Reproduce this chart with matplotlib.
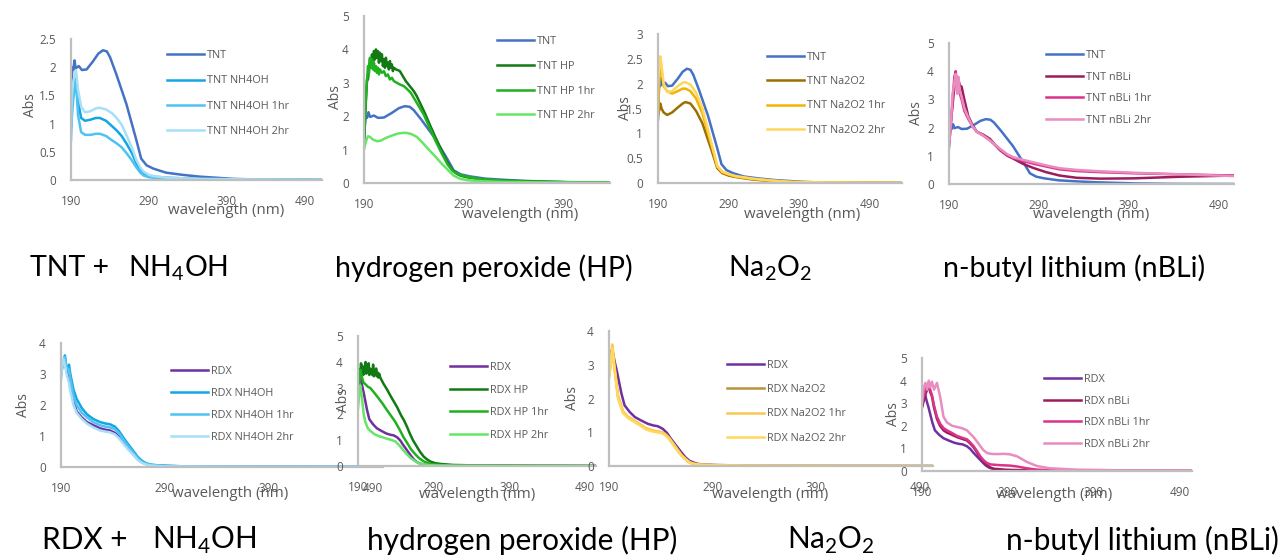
import matplotlib
matplotlib.use("Agg")
import matplotlib.pyplot as plt
from matplotlib.ticker import FuncFormatter

plt.rcParams['font.family'] = ['Open Sans', 'DejaVu Sans']

# ---------------- data (wavelength nm, absorbance) ----------------
tnt_wl = [190, 191.5, 193, 194.5, 196, 200, 204, 210, 218, 225, 231, 236, 240, 248, 261,
          274, 280, 287, 296, 312, 334, 355, 398, 441, 540]
tnt_abs = [1.28, 2.0, 1.95, 2.12, 1.98, 2.02, 1.95, 1.96, 2.1, 2.24, 2.3, 2.28, 2.18, 1.88, 1.35,
           0.7, 0.38, 0.26, 0.2, 0.13, 0.09, 0.06, 0.02, 0.005, 0.0]

nh_wl = [190, 191, 193, 196.4, 199, 203, 208, 215, 222, 227, 235, 243, 248.5, 255, 261,
         268, 274, 279, 283, 290, 296, 313, 355, 420, 520]
tnt_nh = [0.94, 1.4, 1.6, 1.85, 1.4, 1.1, 1.05, 1.07, 1.1, 1.1, 1.05, 0.95, 0.88, 0.78, 0.65,
          0.48, 0.29, 0.18, 0.12, 0.08, 0.06, 0.04, 0.02, 0.01, 0.0]
tnt_nh_1 = [0.7, 1.1, 1.45, 1.75, 1.15, 0.85, 0.8, 0.8, 0.82, 0.82, 0.78, 0.7, 0.65, 0.58, 0.48,
            0.35, 0.22, 0.13, 0.08, 0.05, 0.04, 0.03, 0.01, 0.005, 0.0]
tnt_nh_2 = [1.0, 1.5, 1.75, 1.95, 1.6, 1.3, 1.2, 1.22, 1.27, 1.28, 1.25, 1.18, 1.1, 0.98, 0.8,
            0.58, 0.35, 0.22, 0.15, 0.09, 0.07, 0.04, 0.02, 0.01, 0.0]

hp_wl = [190, 191.5, 193, 194, 195, 196, 197, 198, 199, 200, 201, 202, 203, 204, 205, 206, 207,
         208, 209, 210, 211, 212, 213, 214, 215, 216, 217, 218, 219, 220, 222, 224, 226, 229,
         232, 236, 240, 243, 247, 251, 256, 262, 269, 274, 279, 283, 287, 292, 298, 305, 315,
         330, 350, 380, 410, 437]
tnt_hp = [1.2, 2.2, 3.1, 3.1, 3.4, 3.7, 3.5, 3.85, 3.6, 3.95, 3.7, 4.0, 3.75, 3.95, 3.6, 3.9,
          3.65, 3.85, 3.5, 3.7, 3.45, 3.75, 3.5, 3.6, 3.4, 3.65, 3.45, 3.55, 3.35, 3.45, 3.4,
          3.38, 3.35, 3.2, 3.05, 2.9, 2.75, 2.6, 2.35, 2.1, 1.75, 1.35, 0.9, 0.6, 0.38, 0.28,
          0.22, 0.18, 0.15, 0.12, 0.09, 0.07, 0.05, 0.03, 0.02, 0.01]
hp1_wl = [190, 192, 194, 195, 196, 197, 198, 199, 200, 201, 202, 203, 204, 205, 206, 208, 210,
          212, 214, 216, 218, 220, 223, 226, 230, 233, 237, 241, 245, 250, 256, 262, 269, 274,
          279, 284, 290, 298, 310, 330, 360, 400, 437]
tnt_hp_1 = [1.3, 2.6, 3.5, 3.3, 3.75, 3.45, 3.7, 3.4, 3.6, 3.35, 3.5, 3.3, 3.45, 3.25, 3.4, 3.3,
            3.35, 3.2, 3.25, 3.1, 3.15, 3.05, 3.0, 2.95, 2.9, 2.82, 2.7, 2.5, 2.3, 2.05, 1.65,
            1.25, 0.83, 0.55, 0.36, 0.27, 0.21, 0.16, 0.11, 0.07, 0.04, 0.02, 0.01]
hp2_wl = [190, 192, 194, 196, 199, 203, 207, 212, 218, 224, 229, 233, 238, 243, 249, 255, 262,
          268, 274, 280, 287, 295, 310, 330, 360, 400, 437]
tnt_hp_2 = [1.0, 1.25, 1.4, 1.38, 1.3, 1.25, 1.27, 1.35, 1.42, 1.48, 1.5, 1.5, 1.46, 1.38, 1.2,
            1.0, 0.78, 0.58, 0.4, 0.22, 0.12, 0.08, 0.05, 0.03, 0.02, 0.01, 0.01]

na_wl = [190, 191.5, 193.3, 195, 198, 203, 210, 218, 225, 229, 236, 244, 253, 259, 265, 270,
         274, 281, 290, 300, 324, 350, 381, 440, 536]
tnt_na = [1.37, 1.45, 1.6, 1.5, 1.42, 1.37, 1.42, 1.52, 1.6, 1.63, 1.6, 1.45, 1.2, 0.95, 0.7,
          0.48, 0.3, 0.2, 0.15, 0.12, 0.07, 0.04, 0.02, 0.01, 0.0]
tnt_na_1 = [1.3, 1.9, 2.5, 2.3, 1.95, 1.85, 1.8, 1.85, 1.9, 1.9, 1.85, 1.7, 1.4, 1.1, 0.8,
            0.55, 0.33, 0.22, 0.17, 0.13, 0.08, 0.05, 0.02, 0.01, 0.0]
tnt_na_2 = [2.0, 2.3, 2.55, 2.35, 2.0, 1.83, 1.85, 1.95, 2.02, 2.03, 1.98, 1.82, 1.5, 1.18, 0.85,
            0.58, 0.35, 0.23, 0.18, 0.14, 0.09, 0.05, 0.02, 0.01, 0.0]

nb_wl = [190, 192, 194, 196, 197.5, 199, 200.5, 202, 204, 207, 211.5, 216, 221, 228, 235.5,
         246.7, 255, 261.5, 272, 283.7, 298, 313, 332, 358, 395, 450, 507]
tnt_nb = [1.6, 2.2, 2.8, 3.5, 3.9, 3.6, 3.7, 3.5, 3.45, 3.0, 2.4, 2.1, 1.85, 1.75, 1.6,
          1.2, 1.0, 0.9, 0.72, 0.57, 0.42, 0.3, 0.22, 0.19, 0.2, 0.26, 0.3]
tnt_nb_1 = [1.4, 2.0, 3.0, 3.8, 4.0, 3.3, 3.6, 3.2, 3.0, 2.6, 2.3, 2.05, 1.85, 1.72, 1.55,
            1.22, 1.02, 0.92, 0.82, 0.72, 0.62, 0.52, 0.46, 0.42, 0.38, 0.34, 0.3]
tnt_nb_2 = [1.4, 2.1, 3.2, 3.6, 3.9, 3.2, 3.8, 3.3, 3.1, 2.7, 2.35, 2.05, 1.85, 1.72, 1.55,
            1.25, 1.05, 0.95, 0.86, 0.77, 0.66, 0.56, 0.5, 0.45, 0.4, 0.34, 0.28]

rdx_wl = [190, 192, 193.8, 195.4, 197.7, 199, 202, 205, 210, 215, 221, 227.5, 233, 237, 242,
          246, 250, 255, 260, 264, 268, 272, 276, 284, 292, 310, 340, 400, 505]
rdx_abs = [3.0, 3.4, 3.35, 3.1, 2.8, 2.6, 2.15, 1.8, 1.6, 1.45, 1.35, 1.25, 1.2, 1.18, 1.1,
           0.98, 0.8, 0.6, 0.4, 0.25, 0.15, 0.1, 0.06, 0.04, 0.03, 0.02, 0.01, 0.005, 0.0]
rdx_nh = [3.0, 3.4, 3.6, 3.1, 3.3, 3.0, 2.5, 2.2, 1.9, 1.7, 1.55, 1.45, 1.4, 1.38, 1.3,
          1.15, 0.95, 0.72, 0.5, 0.32, 0.2, 0.12, 0.08, 0.05, 0.04, 0.02, 0.01, 0.005, 0.0]
rdx_nh_1 = [2.9, 3.45, 3.55, 3.2, 3.15, 2.85, 2.3, 2.0, 1.75, 1.6, 1.45, 1.35, 1.3, 1.28, 1.22,
            1.08, 0.88, 0.66, 0.45, 0.28, 0.17, 0.11, 0.07, 0.05, 0.03, 0.02, 0.01, 0.005, 0.0]
rdx_nh_2 = [2.8, 3.5, 3.3, 3.0, 2.7, 2.45, 2.0, 1.75, 1.55, 1.4, 1.28, 1.18, 1.14, 1.12, 1.05,
            0.92, 0.75, 0.55, 0.38, 0.22, 0.13, 0.08, 0.05, 0.03, 0.02, 0.015, 0.01, 0.005, 0.0]

rhp_wl = [190, 191, 192, 193, 194, 195, 196, 197, 198, 199, 200, 201, 202, 203, 204, 205, 206,
          207, 208, 209, 210, 211, 212, 213, 214, 215, 216, 217, 218, 219.5, 224, 228.3, 233,
          237, 242, 247, 251, 255, 259, 263, 268, 272, 277, 282, 286, 292, 299, 316, 350, 420, 505]
rdx_hp = [3.3, 3.5, 3.7, 3.55, 3.95, 3.6, 3.85, 3.5, 3.75, 3.6, 4.0, 3.55, 3.8, 3.6, 3.95, 3.5,
          3.75, 3.55, 3.7, 3.5, 3.9, 3.45, 3.65, 3.5, 3.75, 3.45, 3.6, 3.4, 3.55, 3.4, 3.15,
          2.95, 2.7, 2.5, 2.25, 1.95, 1.75, 1.5, 1.22, 0.98, 0.74, 0.55, 0.36, 0.24, 0.17, 0.11,
          0.08, 0.04, 0.02, 0.01, 0.0]
rhp2_wl = [190, 192.2, 193, 195.3, 197.5, 199.7, 203, 206.3, 212, 217.3, 223, 228.3, 234, 239.3,
           246, 250, 254.8, 260, 265.8, 271, 276.8, 285.6, 299, 320, 380, 505]
rdx_hp_1 = [2.5, 3.3, 3.7, 3.4, 3.2, 3.15, 3.05, 3.0, 2.8, 2.6, 2.38, 2.15, 1.92, 1.7, 1.35,
            1.12, 0.9, 0.65, 0.45, 0.3, 0.18, 0.08, 0.04, 0.02, 0.01, 0.0]
rdx_hp_2 = [2.2, 3.0, 3.1, 2.6, 2.0, 1.7, 1.45, 1.35, 1.22, 1.15, 1.1, 1.05, 1.0, 0.95, 0.75,
            0.6, 0.45, 0.3, 0.18, 0.1, 0.06, 0.03, 0.02, 0.01, 0.005, 0.0]

rna_wl = [190, 191.5, 193.2, 195, 198.7, 203.5, 208, 213.2, 220, 226, 231, 235.8, 240, 243.9,
          248, 252, 256, 260, 264, 268, 272, 277.7, 285, 295, 320, 380, 505]
rdx_na = [2.65, 3.0, 3.55, 3.0, 2.05, 1.6, 1.45, 1.35, 1.22, 1.1, 1.05, 1.02, 1.0, 0.95, 0.82,
          0.65, 0.48, 0.32, 0.2, 0.1, 0.06, 0.04, 0.03, 0.02, 0.01, 0.005, 0.0]
rdx_na_1 = [2.7, 3.05, 3.6, 3.05, 2.1, 1.62, 1.47, 1.37, 1.24, 1.12, 1.07, 1.03, 1.01, 0.96,
            0.84, 0.67, 0.5, 0.33, 0.21, 0.11, 0.07, 0.04, 0.03, 0.02, 0.01, 0.005, 0.0]
rdx_na_2 = [2.6, 2.95, 3.5, 2.95, 2.0, 1.57, 1.43, 1.33, 1.2, 1.08, 1.03, 1.0, 0.98, 0.93,
            0.8, 0.63, 0.46, 0.3, 0.19, 0.1, 0.06, 0.04, 0.03, 0.02, 0.01, 0.005, 0.0]

rnb_wl = [190, 192, 194, 196, 197.8, 199.5, 201.6, 204, 207.4, 211, 215, 219, 225, 230.7, 236,
          242.3, 246, 250, 254, 257.8, 261.5, 265.6, 270, 273.3, 280, 285, 292, 300.5, 312,
          323.7, 339, 370, 420, 504]
rdx_nb = [2.8, 3.1, 3.4, 3.6, 3.8, 3.5, 3.3, 2.8, 2.3, 2.0, 1.8, 1.7, 1.6, 1.5, 1.43, 1.35,
          1.22, 1.05, 0.82, 0.6, 0.42, 0.25, 0.15, 0.1, 0.08, 0.06, 0.05, 0.04, 0.03, 0.02,
          0.015, 0.01, 0.005, 0.0]
rdx_nb_1 = [3.0, 3.3, 3.6, 3.8, 3.9, 3.6, 3.35, 2.9, 2.4, 2.1, 1.9, 1.8, 1.68, 1.55, 1.48, 1.4,
            1.27, 1.1, 0.88, 0.65, 0.48, 0.35, 0.29, 0.28, 0.26, 0.25, 0.24, 0.2, 0.12, 0.06,
            0.04, 0.02, 0.01, 0.0]
rdx_nb_2 = [3.0, 3.7, 3.9, 3.6, 4.0, 3.7, 3.95, 3.6, 3.9, 3.3, 2.4, 2.15, 2.0, 1.95, 1.9, 1.8,
            1.65, 1.5, 1.3, 1.1, 0.92, 0.8, 0.76, 0.75, 0.75, 0.76, 0.74, 0.65, 0.4, 0.22, 0.12,
            0.06, 0.03, 0.02]

captions = ["hydrogen peroxide (HP)", "Na$_\\mathregular{2}$O$_\\mathregular{2}$",
            "n-butyl lithium (nBLi)"]

# colours
c_tnt, c_rdx = "#4472C4", "#7030A0"
c_nh = ["#12A6E4", "#4EC2F2", "#A7DFF8"]
c_hp = ["#127A12", "#20B020", "#66E666"]
c_na = ["#9C7000", "#F2B400", "#FFD760"]
c_rna = ["#B8943A", "#F8C850", "#FFD85C"]
c_nb = ["#9C1C5C", "#D9338A", "#E98CC0"]

W, H = 1286, 557
fig = plt.figure(figsize=(W / 100, H / 100), dpi=100)
gray = "#595959"


def make_ax(l, r, b, t, xmax, ymax, ystep, xlab, ylab, leg_xy, lsp):
    ax = fig.add_axes([l / W, 1 - b / H, (r - l) / W, (b - t) / H])
    ax.patch.set_alpha(0)
    ax.set_xlim(190, xmax)
    ax.set_ylim(0, ymax)
    ax.set_xticks([x for x in (190, 290, 390, 490) if x <= xmax])
    n = int(round(ymax / ystep))
    ax.set_yticks([i * ystep for i in range(n + 1)])
    ax.yaxis.set_major_formatter(FuncFormatter(lambda v, p: f"{v:g}"))
    for s in ("top", "right"):
        ax.spines[s].set_visible(False)
    for s in ("left", "bottom"):
        ax.spines[s].set_color("#BFBFBF")
        ax.spines[s].set_linewidth(1.6)
    ax.tick_params(length=0, labelcolor=gray, labelsize=8.5)
    ax.tick_params(axis="x", pad=11)
    ax.tick_params(axis="y", pad=11)
    ax.set_xlabel("wavelength (nm)", color=gray, fontsize=10.8)
    ax.set_ylabel("Abs", color=gray, fontsize=10)
    ax.xaxis.set_label_coords(*xlab)
    ax.yaxis.set_label_coords(*ylab)
    ax._leg = (leg_xy, lsp)
    return ax


def add_legend(ax):
    (lx, ly), lsp = ax._leg
    ax.legend(loc="upper left", bbox_to_anchor=(lx / W, 1 - ly / H),
              bbox_transform=fig.transFigure, frameon=False, fontsize=7.8,
              labelcolor=gray, handlelength=3.4, handletextpad=0.25,
              labelspacing=lsp, borderpad=0, borderaxespad=0)


lw = 1.8

# --- top row: TNT ---
ax = make_ax(71, 322, 180, 39, 512, 2.5, 0.5, (0.62, -0.163), (-0.131, 0.53), (167, 50), 1.33)
ax.plot(tnt_wl, tnt_abs, color=c_tnt, lw=lw, label="TNT")
ax.plot(nh_wl, tnt_nh, color=c_nh[0], lw=lw, label="TNT NH4OH")
ax.plot(nh_wl, tnt_nh_1, color=c_nh[1], lw=lw, label="TNT NH4OH 1hr")
ax.plot(nh_wl, tnt_nh_2, color=c_nh[2], lw=lw, label="TNT NH4OH 2hr")
add_legend(ax)

ax = make_ax(364, 610, 183, 16, 437, 5, 1, (0.634, -0.144), (-0.085, 0.515), (497, 36), 1.27)
ax.plot(tnt_wl, tnt_abs, color=c_tnt, lw=lw, label="TNT")
ax.plot(hp_wl, tnt_hp, color=c_hp[0], lw=lw, label="TNT HP")
ax.plot(hp1_wl, tnt_hp_1, color=c_hp[1], lw=lw, label="TNT HP 1hr")
ax.plot(hp2_wl, tnt_hp_2, color=c_hp[2], lw=lw, label="TNT HP 2hr")
add_legend(ax)

ax = make_ax(658, 902, 183, 34, 536, 3, 0.5, (0.59, -0.161), (-0.102, 0.5), (767, 52), 1.22)
ax.plot(tnt_wl, tnt_abs, color=c_tnt, lw=lw, label="TNT")
ax.plot(na_wl, tnt_na, color=c_na[0], lw=lw, label="TNT Na2O2")
ax.plot(na_wl, tnt_na_1, color=c_na[1], lw=lw, label="TNT Na2O2 1hr")
ax.plot(na_wl, tnt_na_2, color=c_na[2], lw=lw, label="TNT Na2O2 2hr")
add_legend(ax)

ax = make_ax(949, 1234, 184, 43, 507, 5, 1, (0.5, -0.163), (-0.088, 0.5), (1046, 50), 0.98)
ax.plot(tnt_wl, tnt_abs, color=c_tnt, lw=lw, label="TNT")
ax.plot(nb_wl, tnt_nb, color=c_nb[0], lw=lw, label="TNT nBLi")
ax.plot(nb_wl, tnt_nb_1, color=c_nb[1], lw=lw, label="TNT nBLi 1hr")
ax.plot(nb_wl, tnt_nb_2, color=c_nb[2], lw=lw, label="TNT nBLi 2hr")
add_legend(ax)

# --- bottom row: RDX ---
ax = make_ax(61, 383, 467, 343, 500, 4, 1, (0.525, -0.153), (-0.093, 0.5), (171, 366), 1.02)
ax.plot(rdx_wl, rdx_abs, color=c_rdx, lw=lw, label="RDX")
ax.plot(rdx_wl, rdx_nh, color=c_nh[0], lw=lw, label="RDX NH4OH")
ax.plot(rdx_wl, rdx_nh_1, color=c_nh[1], lw=lw, label="RDX NH4OH 1hr")
ax.plot(rdx_wl, rdx_nh_2, color=c_nh[2], lw=lw, label="RDX NH4OH 2hr")
add_legend(ax)

ax = make_ax(358, 596, 466, 336, 505, 5, 1, (0.5, -0.162), (-0.029, 0.51), (450, 362), 1.07)
ax.plot(rdx_wl, rdx_abs, color=c_rdx, lw=lw, label="RDX")
ax.plot(rhp_wl, rdx_hp, color=c_hp[0], lw=lw, label="RDX HP")
ax.plot(rhp2_wl, rdx_hp_1, color=c_hp[1], lw=lw, label="RDX HP 1hr")
ax.plot(rhp2_wl, rdx_hp_2, color=c_hp[2], lw=lw, label="RDX HP 2hr")
add_legend(ax)

ax = make_ax(609, 933, 466, 331, 503, 4, 1, (0.497, -0.156), (-0.09, 0.5), (727, 360), 1.22)
ax.plot(rdx_wl, rdx_abs, color=c_rdx, lw=lw, label="RDX")
ax.plot(rna_wl, rdx_na, color=c_rna[0], lw=lw, label="RDX Na2O2")
ax.plot(rna_wl, rdx_na_1, color=c_rna[1], lw=lw, label="RDX Na2O2 1hr")
ax.plot(rna_wl, rdx_na_2, color=c_rna[2], lw=lw, label="RDX Na2O2 2hr")
add_legend(ax)

ax = make_ax(922, 1192, 471, 358, 504, 5, 1, (0.49, -0.142), (-0.078, 0.5), (1044, 374), 0.98)
ax.plot(rdx_wl, rdx_abs, color=c_rdx, lw=lw, label="RDX")
ax.plot(rnb_wl, rdx_nb, color=c_nb[0], lw=lw, label="RDX nBLi")
ax.plot(rnb_wl, rdx_nb_1, color=c_nb[1], lw=lw, label="RDX nBLi 1hr")
ax.plot(rnb_wl, rdx_nb_2, color=c_nb[2], lw=lw, label="RDX nBLi 2hr")
add_legend(ax)

# --- captions ---
cap_font = ['Lato', 'DejaVu Sans']
nh4oh = "NH$_\\mathregular{4}$OH"
top = [(30, "TNT +"), (128, nh4oh), (335, captions[0]), (728, captions[1]), (943, captions[2])]
bot = [(42, "RDX +"), (152, nh4oh), (367, captions[0]), (787, captions[1]), (1006, captions[2])]
for x, s in top:
    fig.text(x / W, 1 - 268 / H, s, fontsize=20.5, va="center", family=cap_font)
for x, s in bot:
    fig.text(x / W, 1 - 540 / H, s, fontsize=21.4, va="center", family=cap_font)

fig.savefig("out.png", dpi=100, facecolor="white")
